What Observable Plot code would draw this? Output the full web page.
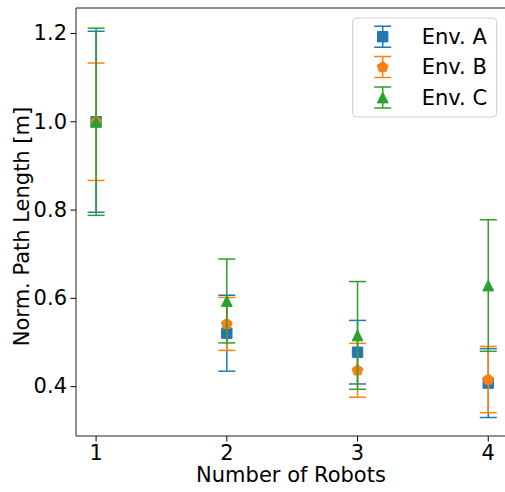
<!DOCTYPE html>
<html><head><meta charset="utf-8">
<script src="https://cdn.jsdelivr.net/npm/d3@7"></script>
<script src="https://cdn.jsdelivr.net/npm/@observablehq/plot@0.6"></script>
<style>html,body{margin:0;padding:0;background:#fff}</style>
</head><body><div id="chart"></div>
<script>
// ---- data ----
const robots = [1, 2, 3, 4];
const seriesNames = ["Env. A", "Env. B", "Env. C"];
const envA = [1.000, 0.521, 0.478, 0.408];
const errA = [0.205, 0.086, 0.072, 0.078];
const envB = [1.000, 0.542, 0.437, 0.416];
const errB = [0.133, 0.060, 0.061, 0.075];
const envC = [1.000, 0.594, 0.516, 0.629];
const errC = [0.212, 0.095, 0.122, 0.149];
const xTicks = [1, 2, 3, 4];
const yTicks = [0.4, 0.6, 0.8, 1.0, 1.2];
const xLabel = "Number of Robots";
const yLabel = "Norm. Path Length [m]";

const colors = ["#1f77b4", "#ff7f0e", "#2ca02c"];
const FS = 21;

// symbols
const capSym = {draw(c) { c.moveTo(-8.5, 0); c.lineTo(8.5, 0); }};
const squareSym = {draw(c) { c.rect(-5.2, -5.2, 10.4, 10.4); }};
const pentSym = {draw(c) {
  for (let i = 0; i < 5; i++) {
    const a = -Math.PI / 2 + i * 2 * Math.PI / 5;
    const x = 5.7 * Math.cos(a), y = 5.7 * Math.sin(a);
    if (i) c.lineTo(x, y); else c.moveTo(x, y);
  }
  c.closePath();
}};
const triSym = {draw(c) { c.moveTo(0, -5.4); c.lineTo(-5.4, 5.4); c.lineTo(5.4, 5.4); c.closePath(); }};
const markerSyms = [squareSym, pentSym, triSym];

const values = [envA, envB, envC];
const errs = [errA, errB, errC];
const tables = seriesNames.map((name, s) => robots.map((n, i) => ({
  env: name, n, v: values[s][i], lo: values[s][i] - errs[s][i], hi: values[s][i] + errs[s][i]
})));

const seriesMarks = tables.flatMap((rows, s) => [
  Plot.ruleX(rows, {x: "n", y1: "lo", y2: "hi", stroke: colors[s], strokeWidth: 1.5}),
  Plot.dot(rows, {x: "n", y: "lo", symbol: capSym, fill: "none", stroke: colors[s], strokeWidth: 1.5}),
  Plot.dot(rows, {x: "n", y: "hi", symbol: capSym, fill: "none", stroke: colors[s], strokeWidth: 1.5}),
  Plot.dot(rows, {x: "n", y: "v", symbol: markerSyms[s], fill: colors[s], stroke: colors[s], strokeWidth: 1})
]);

function spines(index, scales, vals, dim) {
  const g = d3.create("svg:g").attr("stroke", "#222").attr("stroke-width", 1).attr("fill", "none");
  const L = dim.marginLeft, T = dim.marginTop, B = dim.height - dim.marginBottom, R = dim.width - dim.marginRight;
  g.append("path").attr("d", `M${L},${B}V${T}H${R + 2}`);
  g.append("path").attr("d", `M${L},${B}H${R + 2}`);
  return g.node();
}

function legend(index, scales, vals, dim) {
  const R = dim.width - dim.marginRight;
  const T = dim.marginTop;
  const g = d3.create("svg:g");
  const bx = R - 152.3, by = T + 10, bw = 144, bh = 99;
  g.append("rect").attr("x", bx).attr("y", by).attr("width", bw).attr("height", bh)
    .attr("rx", 4).attr("fill", "#fff").attr("fill-opacity", 0.8).attr("stroke", "#cccccc").attr("stroke-width", 1);
  seriesNames.forEach((name, s) => {
    const cy = by + 18.7 + s * 30.4;
    const mx = bx + 30;
    const item = g.append("g").attr("transform", `translate(${mx},${cy})`);
    item.append("path").attr("d", "M0,-10.5V10.5").attr("stroke", colors[s]).attr("stroke-width", 1.5);
    item.append("path").attr("d", "M-8.5,-10.5H8.5M-8.5,10.5H8.5").attr("stroke", colors[s]).attr("stroke-width", 1.5);
    item.append("path").attr("d", d3.symbol(markerSyms[s])()).attr("fill", colors[s]).attr("stroke", colors[s]).attr("stroke-width", 1);
    g.append("text").attr("x", bx + 69).attr("y", cy + 7).attr("text-anchor", "start")
      .attr("font-family", "DejaVu Sans").attr("font-size", FS).attr("fill", "#000").text(name);
  });
  return g.node();
}

const chart = Plot.plot({
  width: 505,
  height: 492,
  marginLeft: 76,
  marginRight: 0,
  marginTop: 8,
  marginBottom: 56,
  style: {fontFamily: "DejaVu Sans", fontSize: FS + "px", color: "#000", background: "#fff", overflow: "visible"},
  x: {domain: [0.85, 4.132]},
  y: {domain: [0.287, 1.2566]},
  marks: [
    Plot.axisX({ticks: xTicks, tickFormat: d => String(d), tickSize: 5.5, tickPadding: 3.5, fontSize: FS, label: null, stroke: "#000"}),
    Plot.axisY({ticks: yTicks, tickFormat: d3.format(".1f"), tickSize: 5.5, tickPadding: 4, fontSize: FS, label: null, stroke: "#000"}),
    Plot.text([xLabel], {frameAnchor: "bottom", dy: 39, fontSize: FS, lineAnchor: "middle", textAnchor: "middle", fill: "#000"}),
    Plot.text([yLabel], {frameAnchor: "left", dx: -54, dy: 4, rotate: -90, fontSize: FS, lineAnchor: "middle", textAnchor: "middle", fill: "#000"}),
    ...seriesMarks,
    spines,
    legend
  ]
});
document.getElementById("chart").appendChild(chart);
</script>
</body></html>
